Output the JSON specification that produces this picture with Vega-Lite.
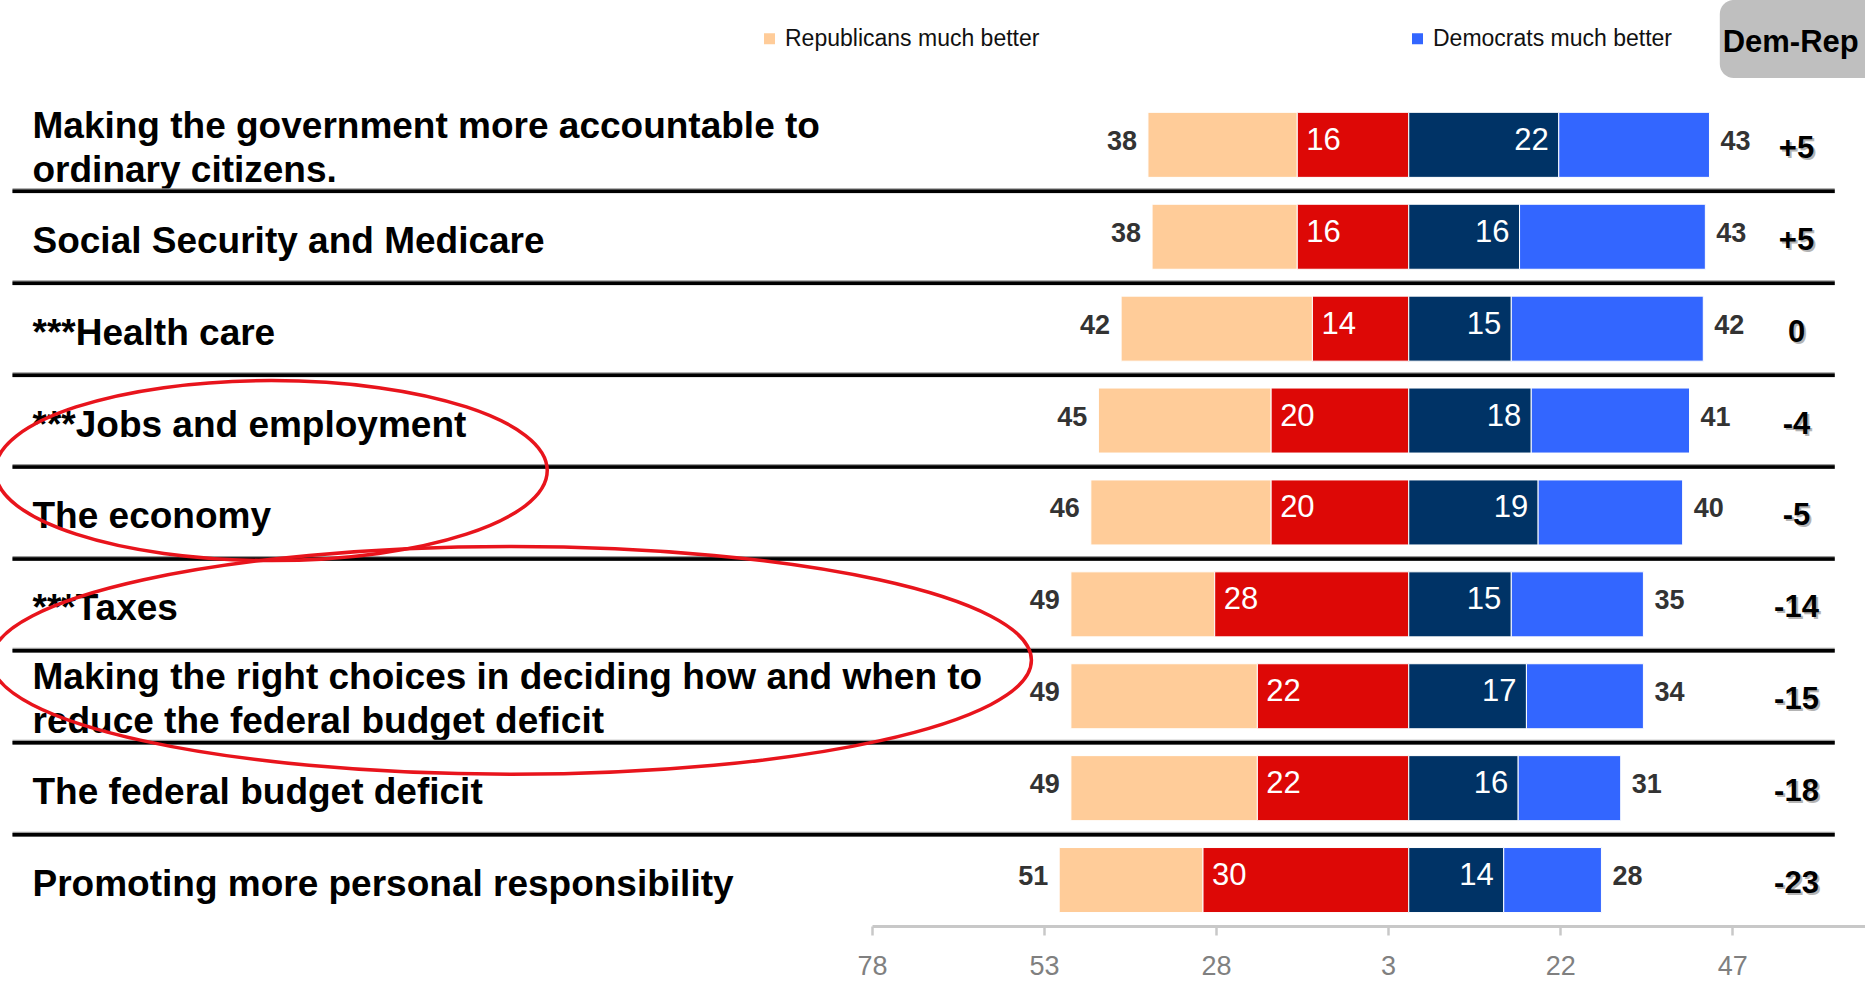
{
  "$schema": "https://vega.github.io/schema/vega-lite/v6.json",
  "width": 993,
  "height": 919,
  "autosize": {"type": "none"},
  "padding": {"left": 872, "top": 7, "right": 0, "bottom": 61},
  "background": "white",
  "config": {
    "view": {"stroke": null},
    "font": "Liberation Sans",
    "axisX": {"domainColor": "#c8c8c8", "domainWidth": 3, "tickColor": "#c8c8c8", "tickWidth": 2.5, "tickSize": 9, "labelColor": "#808080", "labelFontSize": 27, "labelFont": "Liberation Sans", "labelPadding": 18, "grid": false, "labelFlush": false, "labelOverlap": false},
    "axisY": {"domain": false, "ticks": false, "tickSize": 0, "labelPadding": 840, "labelAlign": "left", "labelBaseline": "middle", "labelFontSize": 37, "labelFont": "Liberation Sans", "labelFontWeight": "bold", "labelColor": "black", "labelLimit": 0, "labelLineHeight": 44, "labelOverlap": false, "grid": false}
  },
  "datasets": {
    "bars": [
      {"issue": "Making the government more accountable to|ordinary citizens.", "segment": "Republicans much better", "start": -37.9, "end": -16.2, "value": 38},
      {"issue": "Making the government more accountable to|ordinary citizens.", "segment": "Republicans better", "start": -16.2, "end": 0, "value": 16},
      {"issue": "Making the government more accountable to|ordinary citizens.", "segment": "Democrats better", "start": 0, "end": 21.8, "value": 22},
      {"issue": "Making the government more accountable to|ordinary citizens.", "segment": "Democrats much better", "start": 21.8, "end": 43.7, "value": 43},
      {"issue": "Social Security and Medicare", "segment": "Republicans much better", "start": -37.3, "end": -16.2, "value": 38},
      {"issue": "Social Security and Medicare", "segment": "Republicans better", "start": -16.2, "end": 0, "value": 16},
      {"issue": "Social Security and Medicare", "segment": "Democrats better", "start": 0, "end": 16.1, "value": 16},
      {"issue": "Social Security and Medicare", "segment": "Democrats much better", "start": 16.1, "end": 43.1, "value": 43},
      {"issue": "***Health care", "segment": "Republicans much better", "start": -41.8, "end": -14, "value": 42},
      {"issue": "***Health care", "segment": "Republicans better", "start": -14, "end": 0, "value": 14},
      {"issue": "***Health care", "segment": "Democrats better", "start": 0, "end": 14.9, "value": 15},
      {"issue": "***Health care", "segment": "Democrats much better", "start": 14.9, "end": 42.8, "value": 42},
      {"issue": "***Jobs and employment", "segment": "Republicans much better", "start": -45.1, "end": -20, "value": 45},
      {"issue": "***Jobs and employment", "segment": "Republicans better", "start": -20, "end": 0, "value": 20},
      {"issue": "***Jobs and employment", "segment": "Democrats better", "start": 0, "end": 17.8, "value": 18},
      {"issue": "***Jobs and employment", "segment": "Democrats much better", "start": 17.8, "end": 40.8, "value": 41},
      {"issue": "The economy", "segment": "Republicans much better", "start": -46.2, "end": -20, "value": 46},
      {"issue": "The economy", "segment": "Republicans better", "start": -20, "end": 0, "value": 20},
      {"issue": "The economy", "segment": "Democrats better", "start": 0, "end": 18.8, "value": 19},
      {"issue": "The economy", "segment": "Democrats much better", "start": 18.8, "end": 39.8, "value": 40},
      {"issue": "***Taxes", "segment": "Republicans much better", "start": -49.1, "end": -28.2, "value": 49},
      {"issue": "***Taxes", "segment": "Republicans better", "start": -28.2, "end": 0, "value": 28},
      {"issue": "***Taxes", "segment": "Democrats better", "start": 0, "end": 14.9, "value": 15},
      {"issue": "***Taxes", "segment": "Democrats much better", "start": 14.9, "end": 34.1, "value": 35},
      {"issue": "Making the right choices in deciding how and when to|reduce the federal budget deficit", "segment": "Republicans much better", "start": -49.1, "end": -22, "value": 49},
      {"issue": "Making the right choices in deciding how and when to|reduce the federal budget deficit", "segment": "Republicans better", "start": -22, "end": 0, "value": 22},
      {"issue": "Making the right choices in deciding how and when to|reduce the federal budget deficit", "segment": "Democrats better", "start": 0, "end": 17.1, "value": 17},
      {"issue": "Making the right choices in deciding how and when to|reduce the federal budget deficit", "segment": "Democrats much better", "start": 17.1, "end": 34.1, "value": 34},
      {"issue": "The federal budget deficit", "segment": "Republicans much better", "start": -49.1, "end": -22, "value": 49},
      {"issue": "The federal budget deficit", "segment": "Republicans better", "start": -22, "end": 0, "value": 22},
      {"issue": "The federal budget deficit", "segment": "Democrats better", "start": 0, "end": 15.9, "value": 16},
      {"issue": "The federal budget deficit", "segment": "Democrats much better", "start": 15.9, "end": 30.8, "value": 31},
      {"issue": "Promoting more personal responsibility", "segment": "Republicans much better", "start": -50.8, "end": -29.9, "value": 51},
      {"issue": "Promoting more personal responsibility", "segment": "Republicans better", "start": -29.9, "end": 0, "value": 30},
      {"issue": "Promoting more personal responsibility", "segment": "Democrats better", "start": 0, "end": 13.8, "value": 14},
      {"issue": "Promoting more personal responsibility", "segment": "Democrats much better", "start": 13.8, "end": 28, "value": 28}
    ],
    "rows": [
      {"issue": "Making the government more accountable to|ordinary citizens.", "diff": "+5"},
      {"issue": "Social Security and Medicare", "diff": "+5"},
      {"issue": "***Health care", "diff": "0"},
      {"issue": "***Jobs and employment", "diff": "-4"},
      {"issue": "The economy", "diff": "-5"},
      {"issue": "***Taxes", "diff": "-14"},
      {"issue": "Making the right choices in deciding how and when to|reduce the federal budget deficit", "diff": "-15"},
      {"issue": "The federal budget deficit", "diff": "-18"},
      {"issue": "Promoting more personal responsibility", "diff": "-23"}
    ]
  },
  "encoding": {
    "y": {
      "field": "issue", "type": "nominal", "sort": null,
      "scale": {"domain": ["Dem-Rep", "Making the government more accountable to|ordinary citizens.", "Social Security and Medicare", "***Health care", "***Jobs and employment", "The economy", "***Taxes", "Making the right choices in deciding how and when to|reduce the federal budget deficit", "The federal budget deficit", "Promoting more personal responsibility"], "paddingInner": 0.2925, "paddingOuter": 0.14625},
      "axis": {"title": null, "labelExpr": "datum.label == 'Dem-Rep' ? '' : split(datum.label, '|')", "labelOffset": {"condition": {"test": "indexof(datum.value, '|') >= 0", "value": -18}, "value": 5}}
    }
  },
  "layer": [
    {
      "data": {"values": [{"issue": "Dem-Rep"}]},
      "mark": {"type": "bar", "height": 78, "yOffset": -14, "cornerRadius": 14, "color": "#BFBFBF"},
      "encoding": {"x": {"datum": 45.2, "type": "quantitative", "scale": {"domain": [-78, 66.3], "nice": false, "zero": false}}, "x2": {"datum": 68.6}}
    },
    {
      "data": {"values": [{"issue": "Dem-Rep"}]},
      "mark": {"type": "text", "font": "Liberation Sans", "fontWeight": "bold", "fontSize": 31, "color": "black", "align": "center", "baseline": "middle", "dy": -10},
      "encoding": {"x": {"datum": 55.5, "type": "quantitative", "scale": {"domain": [-78, 66.3], "nice": false, "zero": false}}, "text": {"field": "issue"}}
    },
    {
      "data": {"name": "rows"},
      "transform": [{"filter": "datum.issue != 'Promoting more personal responsibility'"}],
      "mark": {"type": "rule", "color": "#9a9a9a", "strokeWidth": 5, "yOffset": 46},
      "encoding": {"x": {"datum": -202.9, "type": "quantitative", "scale": {"domain": [-78, 66.3], "nice": false, "zero": false}}, "x2": {"datum": 61.9}}
    },
    {
      "data": {"name": "rows"},
      "transform": [{"filter": "datum.issue != 'Promoting more personal responsibility'"}],
      "mark": {"type": "rule", "color": "black", "strokeWidth": 3.5, "yOffset": 46.5},
      "encoding": {"x": {"datum": -202.9, "type": "quantitative", "scale": {"domain": [-78, 66.3], "nice": false, "zero": false}}, "x2": {"datum": 61.9}}
    },
    {
      "data": {"name": "bars"},
      "mark": {"type": "bar", "stroke": "white", "strokeWidth": 1},
      "encoding": {
        "x": {"field": "start", "type": "quantitative", "scale": {"domain": [-78, 66.3], "nice": false, "zero": false}, "axis": {"title": null, "values": [-78, -53, -28, -3, 22, 47], "labelExpr": "'' + abs(datum.value)"}},
        "x2": {"field": "end"},
        "color": {
          "field": "segment", "type": "nominal",
          "scale": {"domain": ["Republicans much better", "Republicans better", "Democrats better", "Democrats much better"], "range": ["#FFCC99", "#DD0806", "#003366", "#3366FF"]},
          "legend": {"values": ["Republicans much better", "Democrats much better"], "orient": "none", "legendX": -114, "legendY": 20, "direction": "horizontal", "title": null, "symbolType": "square", "symbolSize": 121, "symbolStrokeWidth": 0, "labelFontSize": 23, "labelFont": "Liberation Sans", "labelColor": "#111111", "columnPadding": 366, "labelOffset": 4, "padding": 0, "offset": 0, "labelLimit": 0}
        }
      }
    },
    {
      "data": {"name": "bars"},
      "transform": [{"filter": "datum.segment == 'Republicans much better'"}],
      "mark": {"type": "text", "align": "right", "baseline": "middle", "dx": -11, "dy": -3, "font": "Liberation Sans", "fontWeight": "bold", "fontSize": 27, "color": "#333333"},
      "encoding": {"x": {"field": "start", "type": "quantitative"}, "text": {"field": "value", "type": "quantitative"}}
    },
    {
      "data": {"name": "bars"},
      "transform": [{"filter": "datum.segment == 'Republicans better'"}],
      "mark": {"type": "text", "align": "left", "baseline": "middle", "dx": 9, "dy": -4, "font": "Liberation Sans", "fontSize": 31, "color": "white"},
      "encoding": {"x": {"field": "start", "type": "quantitative"}, "text": {"field": "value", "type": "quantitative"}}
    },
    {
      "data": {"name": "bars"},
      "transform": [{"filter": "datum.segment == 'Democrats better'"}],
      "mark": {"type": "text", "align": "right", "baseline": "middle", "dx": -10, "dy": -4, "font": "Liberation Sans", "fontSize": 31, "color": "white"},
      "encoding": {"x": {"field": "end", "type": "quantitative"}, "text": {"field": "value", "type": "quantitative"}}
    },
    {
      "data": {"name": "bars"},
      "transform": [{"filter": "datum.segment == 'Democrats much better'"}],
      "mark": {"type": "text", "align": "left", "baseline": "middle", "dx": 11, "dy": -3, "font": "Liberation Sans", "fontWeight": "bold", "fontSize": 27, "color": "#333333"},
      "encoding": {"x": {"field": "end", "type": "quantitative"}, "text": {"field": "value", "type": "quantitative"}}
    },
    {
      "data": {"name": "rows"},
      "mark": {"type": "text", "align": "center", "baseline": "middle", "dx": 2, "dy": 6, "font": "Liberation Sans", "fontWeight": "bold", "fontSize": 31, "color": "#b4b4b4"},
      "encoding": {"x": {"datum": 56.35, "type": "quantitative", "scale": {"domain": [-78, 66.3], "nice": false, "zero": false}}, "text": {"field": "diff", "type": "nominal"}}
    },
    {
      "data": {"name": "rows"},
      "mark": {"type": "text", "align": "center", "baseline": "middle", "dy": 4, "font": "Liberation Sans", "fontWeight": "bold", "fontSize": 31, "color": "black"},
      "encoding": {"x": {"datum": 56.35, "type": "quantitative", "scale": {"domain": [-78, 66.3], "nice": false, "zero": false}}, "text": {"field": "diff", "type": "nominal"}}
    },
    {
      "data": {"values": [{"issue": "***Jobs and employment"}]},
      "mark": {"type": "point", "filled": false, "stroke": "#e8141c", "strokeWidth": 3.5, "opacity": 1, "size": 304704, "yOffset": 50, "shape": "M-1,0C-1,-0.18,-0.5523,-0.326,0,-0.326C0.5523,-0.326,1,-0.18,1,0C1,0.18,0.5523,0.326,0,0.326C-0.5523,0.326,-1,0.18,-1,0Z"},
      "encoding": {"x": {"datum": -165.3, "type": "quantitative", "scale": {"domain": [-78, 66.3], "nice": false, "zero": false}}}
    },
    {
      "data": {"values": [{"issue": "***Taxes"}]},
      "mark": {"type": "point", "filled": false, "stroke": "#e8141c", "strokeWidth": 3.5, "opacity": 1, "size": 1081600, "yOffset": 56, "shape": "M-1,0C-1,-0.121,-0.5523,-0.219,0,-0.219C0.5523,-0.219,1,-0.121,1,0C1,0.121,0.5523,0.219,0,0.219C-0.5523,0.219,-1,0.121,-1,0Z"},
      "encoding": {"x": {"datum": -130.4, "type": "quantitative", "scale": {"domain": [-78, 66.3], "nice": false, "zero": false}}}
    }
  ]
}
